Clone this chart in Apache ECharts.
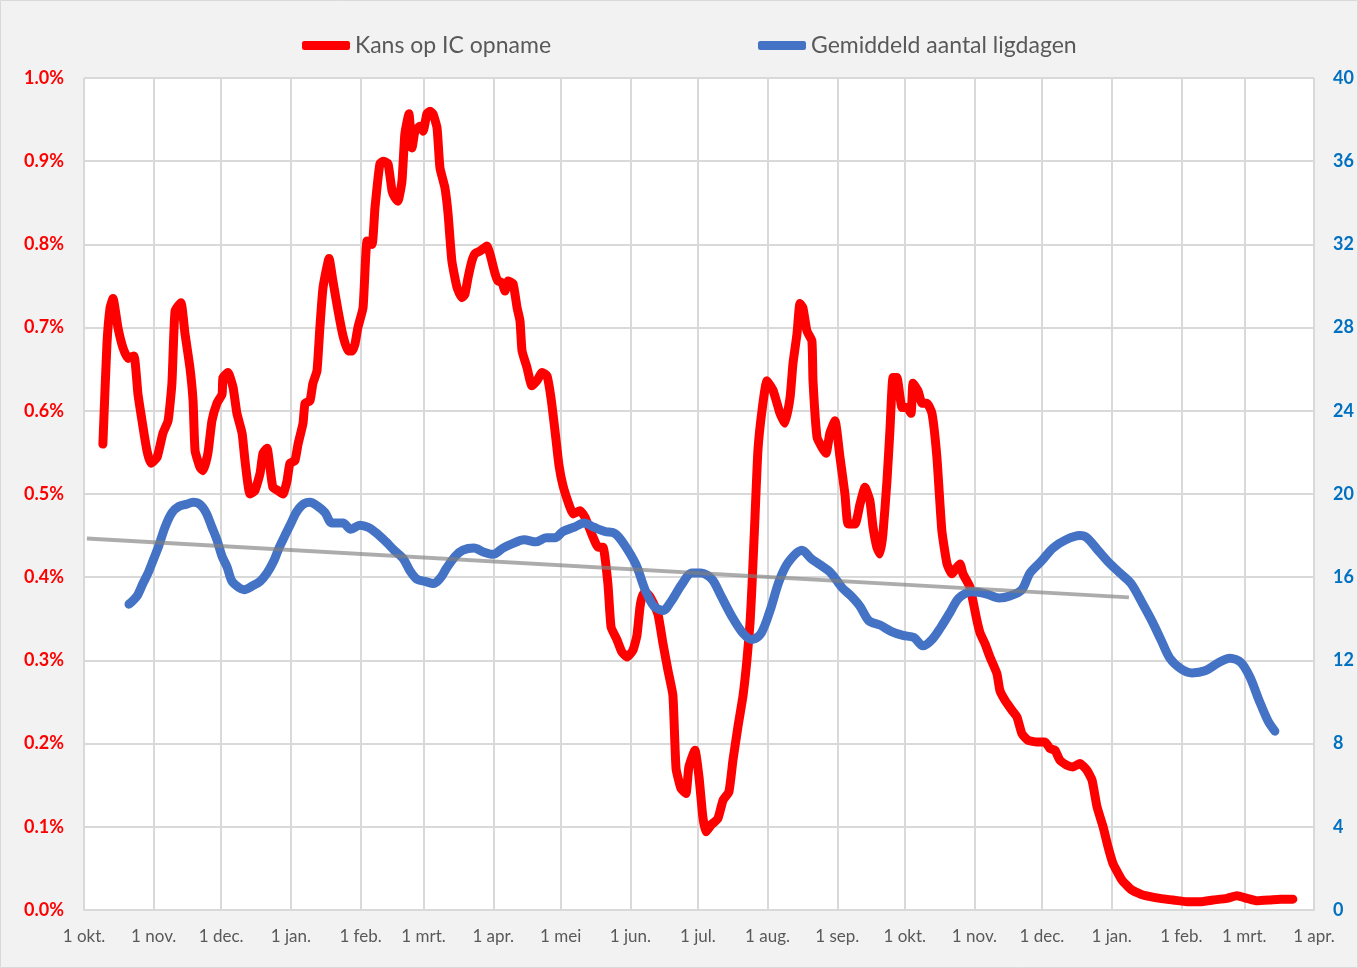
<!DOCTYPE html>
<html>
<head>
<meta charset="utf-8">
<script src="https://cdn.jsdelivr.net/npm/echarts@6/dist/echarts.min.js"></script>
<style>
html,body{margin:0;padding:0;background:#f2f2f2;}
#chart{width:1358px;height:968px;}
</style>
</head>
<body>
<div id="chart"></div>
<script>
// Days since 1 okt. 2020 and values
const startDate = [2020, 9, 1];
const monthNames = ['jan.','feb.','mrt.','apr.','mei','jun.','jul.','aug.','sep.','okt.','nov.','dec.'];

const redName = 'Kans op IC opname';
const blueName = 'Gemiddeld aantal ligdagen';

const redDays = [8.4,10.2,11.6,12.9,15.1,17.3,19.6,22.2,24.0,25.8,28.0,29.8,32.5,35.1,37.4,39.1,40.5,43.1,44.9,47.1,48.5,49.4,51.6,52.9,55.1,56.9,59.1,61.4,61.8,64.0,66.3,68.0,70.3,71.6,73.8,76.0,78.3,79.6,81.4,82.7,84.0,86.3,88.5,90.3,91.6,93.8,95.2,97.4,98.3,100.5,101.8,103.6,104.9,106.3,109.0,110.7,113.0,115.2,117.4,119.2,120.5,121.8,124.1,125.9,128.1,129.4,131.6,133.0,135.2,137.0,138.3,139.6,141.4,142.7,144.5,145.9,147.2,149.4,150.8,152.5,153.9,155.2,157.0,158.3,160.5,161.9,163.6,165.9,168.1,169.4,170.8,172.5,173.9,176.1,179.2,180.5,182.8,184.1,185.9,187.2,188.6,190.8,192.6,193.9,194.8,197.0,199.2,201.4,203.7,205.9,207.7,209.5,211.2,213.0,216.1,217.5,220.6,222.8,226.4,228.6,230.8,233.0,234.4,237.0,239.2,241.5,244.1,245.9,247.3,248.6,250.8,253.0,255.3,257.5,259.7,261.9,263.3,265.5,267.7,269.0,271.7,273.5,275.2,276.6,278.8,281.9,284.2,286.8,288.6,290.8,293.1,294.8,296.2,297.1,298.4,299.7,301.5,303.7,306.4,309.5,311.7,314.0,315.3,317.1,318.4,319.7,321.5,323.7,324.2,326.0,328.2,330.0,331.7,334.0,336.2,338.4,339.8,342.9,345.1,347.3,349.5,350.9,352.6,354.0,355.3,357.1,358.4,359.8,361.5,363.8,366.0,367.8,368.7,370.9,372.7,374.9,377.1,379.3,381.5,383.8,386.0,388.2,389.6,390.9,394.0,397.1,398.5,400.7,402.9,406.0,407.3,409.6,412.7,414.9,417.1,419.8,423.8,427.4,429.6,431.8,434.0,437.1,439.8,442.9,446.0,448.3,450.5,453.2,455.4,457.6,461.6,466.0,470.9,478.5,484.3,490.5,496.3,502.1,508.3,512.7,517.2,521.6,527.4,531.9,537.6];
const redValues = [0.56,0.68,0.724,0.735,0.70,0.676,0.663,0.666,0.62,0.588,0.552,0.537,0.544,0.573,0.588,0.633,0.72,0.73,0.693,0.652,0.612,0.552,0.532,0.528,0.549,0.588,0.609,0.62,0.64,0.646,0.628,0.597,0.573,0.54,0.50,0.504,0.525,0.549,0.555,0.532,0.508,0.504,0.50,0.516,0.537,0.54,0.56,0.585,0.609,0.612,0.633,0.648,0.70,0.748,0.783,0.756,0.72,0.69,0.672,0.672,0.68,0.70,0.724,0.804,0.80,0.844,0.897,0.90,0.897,0.864,0.856,0.852,0.876,0.933,0.957,0.916,0.936,0.942,0.936,0.957,0.96,0.957,0.94,0.892,0.868,0.837,0.78,0.748,0.736,0.74,0.76,0.78,0.789,0.792,0.798,0.789,0.765,0.756,0.754,0.744,0.756,0.753,0.724,0.708,0.672,0.652,0.63,0.636,0.646,0.642,0.615,0.575,0.535,0.51,0.484,0.476,0.48,0.472,0.448,0.436,0.436,0.392,0.34,0.325,0.31,0.304,0.312,0.33,0.365,0.38,0.38,0.37,0.355,0.32,0.288,0.258,0.17,0.146,0.14,0.172,0.192,0.16,0.112,0.094,0.102,0.11,0.132,0.142,0.18,0.22,0.258,0.30,0.345,0.392,0.472,0.552,0.60,0.636,0.625,0.597,0.585,0.616,0.657,0.693,0.729,0.724,0.696,0.684,0.636,0.568,0.556,0.549,0.573,0.588,0.544,0.50,0.464,0.464,0.488,0.508,0.492,0.46,0.436,0.428,0.452,0.516,0.576,0.64,0.64,0.604,0.604,0.597,0.633,0.624,0.609,0.609,0.597,0.544,0.456,0.416,0.404,0.412,0.416,0.404,0.388,0.348,0.333,0.32,0.304,0.284,0.264,0.252,0.24,0.232,0.212,0.204,0.202,0.202,0.194,0.192,0.18,0.174,0.172,0.176,0.168,0.156,0.124,0.10,0.076,0.056,0.036,0.024,0.018,0.014,0.012,0.01,0.01,0.012,0.014,0.017,0.014,0.011,0.012,0.013,0.013];

const blueDays = [20.0,23.6,26.2,28.5,30.7,32.9,36.0,39.1,42.2,45.4,48.5,51.6,54.3,56.9,59.1,61.4,63.6,65.8,68.9,71.2,75.2,78.3,81.4,84.5,86.7,89.8,92.1,94.3,97.4,100.5,104.1,107.2,110.3,115.2,118.7,122.7,126.3,130.3,134.3,137.9,141.9,145.0,148.1,151.6,155.6,158.8,161.0,165.0,168.5,173.4,177.9,181.9,186.3,190.3,195.7,201.0,205.5,209.5,213.0,217.9,222.4,226.8,231.7,236.1,240.1,245.5,249.5,253.5,257.5,261.5,265.5,270.4,274.4,279.3,283.3,288.2,293.1,297.1,301.1,305.1,309.1,313.1,319.3,323.3,327.3,332.2,337.1,341.1,345.1,349.1,354.0,358.9,364.2,369.1,373.1,377.1,381.1,385.1,389.1,394.9,401.1,406.9,411.8,417.1,420.7,426.0,430.9,436.7,442.9,446.0,450.9,455.8,460.7,465.6,470.9,474.9,478.9,482.9,487.8,492.7,498.5,504.7,509.6,514.5,518.5,522.5,526.5,529.6];
const blueValues = [14.7,15.1,15.7,16.2,16.8,17.4,18.4,19.1,19.4,19.5,19.6,19.5,19.1,18.4,17.8,17.0,16.5,15.8,15.5,15.4,15.6,15.8,16.2,16.8,17.4,18.1,18.6,19.1,19.5,19.6,19.4,19.1,18.6,18.6,18.3,18.5,18.4,18.1,17.7,17.3,16.9,16.3,15.9,15.8,15.7,16.0,16.4,17.0,17.3,17.4,17.2,17.1,17.4,17.6,17.8,17.7,17.9,17.9,18.2,18.4,18.6,18.4,18.2,18.1,17.6,16.6,15.4,14.6,14.4,14.9,15.6,16.2,16.2,15.9,15.1,14.1,13.3,13.0,13.3,14.4,15.8,16.7,17.3,16.9,16.6,16.2,15.5,15.1,14.6,13.9,13.7,13.4,13.2,13.1,12.7,13.0,13.6,14.3,15.0,15.3,15.2,15.0,15.1,15.4,16.2,16.8,17.4,17.8,18.0,17.9,17.3,16.7,16.2,15.7,14.7,13.9,13.0,12.1,11.6,11.4,11.5,11.9,12.1,11.9,11.2,10.1,9.1,8.6];

// linear trend line (grey), endpoints
const trendDays = [1.3, 464.7];
const trendValues = [17.86, 15.03];

const leftTicks = [0, 1, 0.1];   // min, max, interval (%)
const rightTicks = [0, 40, 4];   // min, max, interval

const DAY = 86400000;
const t0 = new Date(startDate[0], startDate[1], startDate[2]).getTime();
const toTime = d => t0 + d * DAY;
const pairs = (days, vals) => days.map((d, i) => [toTime(d), vals[i]]);

const font = 'Lato, "Liberation Sans", sans-serif';
const chart = echarts.init(document.getElementById('chart'), null, {renderer: 'canvas'});
chart.setOption({
  animation: false,
  backgroundColor: '#f2f2f2',
  textStyle: {fontFamily: font},
  graphic: [{
    type: 'rect', silent: true, z: -10,
    shape: {x: 0.5, y: 0.5, width: 1357, height: 967},
    style: {fill: 'none', stroke: '#d9d9d9', lineWidth: 1}
  }],
  legend: [
    {
      left: 297, top: 29, itemWidth: 48, itemHeight: 9, icon: 'roundRect',
      textStyle: {fontSize: 23, color: '#595959', fontFamily: font},
      data: [redName]
    },
    {
      left: 753, top: 29, itemWidth: 48, itemHeight: 9, icon: 'roundRect',
      textStyle: {fontSize: 23, color: '#595959', fontFamily: font},
      data: [blueName]
    }
  ],
  grid: {
    left: 84, right: 44, top: 78, bottom: 58, containLabel: false,
    show: true, backgroundColor: '#ffffff', borderWidth: 0
  },
  xAxis: {
    type: 'time',
    min: toTime(0),
    max: new Date(2022, 3, 1).getTime(),
    minInterval: 28 * DAY,
    maxInterval: 31 * DAY,
    axisLine: {show: true, lineStyle: {color: '#d9d9d9', width: 2}},
    axisTick: {show: false},
    splitLine: {show: true, lineStyle: {color: '#d9d9d9', width: 2}},
    axisLabel: {
      color: '#595959', fontSize: 17, margin: 18, fontFamily: font,
      showMinLabel: true, showMaxLabel: true, hideOverlap: false,
      formatter: v => { const d = new Date(v); return d.getDate() + ' ' + monthNames[d.getMonth()]; }
    }
  },
  yAxis: [
    {
      type: 'value', min: leftTicks[0], max: leftTicks[1], interval: leftTicks[2],
      position: 'left',
      axisLine: {show: false}, axisTick: {show: false},
      splitLine: {show: true, lineStyle: {color: '#d9d9d9', width: 2}},
      axisLabel: {color: '#ff0000', fontWeight: 'bold', fontSize: 18, margin: 20, fontFamily: font,
        formatter: v => v.toFixed(1) + '%'}
    },
    {
      type: 'value', min: rightTicks[0], max: rightTicks[1], interval: rightTicks[2],
      position: 'right',
      axisLine: {show: false}, axisTick: {show: false},
      splitLine: {show: false},
      axisLabel: {color: '#0070c0', fontWeight: 'bold', fontSize: 18, margin: 19, fontFamily: font}
    }
  ],
  series: [
    {
      name: redName, type: 'line', yAxisIndex: 0, showSymbol: false, smooth: 0.15, z: 2,
      color: '#ff0000',
      lineStyle: {color: '#ff0000', width: 9, cap: 'round', join: 'round'},
      data: pairs(redDays, redValues)
    },
    {
      name: blueName, type: 'line', yAxisIndex: 1, showSymbol: false, smooth: 0.3, z: 3,
      color: '#4472c4',
      lineStyle: {color: '#4472c4', width: 9, cap: 'round', join: 'round'},
      data: pairs(blueDays, blueValues)
    },
    {
      name: 'trend', type: 'line', yAxisIndex: 1, showSymbol: false, z: 4,
      lineStyle: {color: '#7f7f7f', width: 4, opacity: 0.65},
      data: pairs(trendDays, trendValues)
    }
  ]
});
</script>
</body>
</html>
